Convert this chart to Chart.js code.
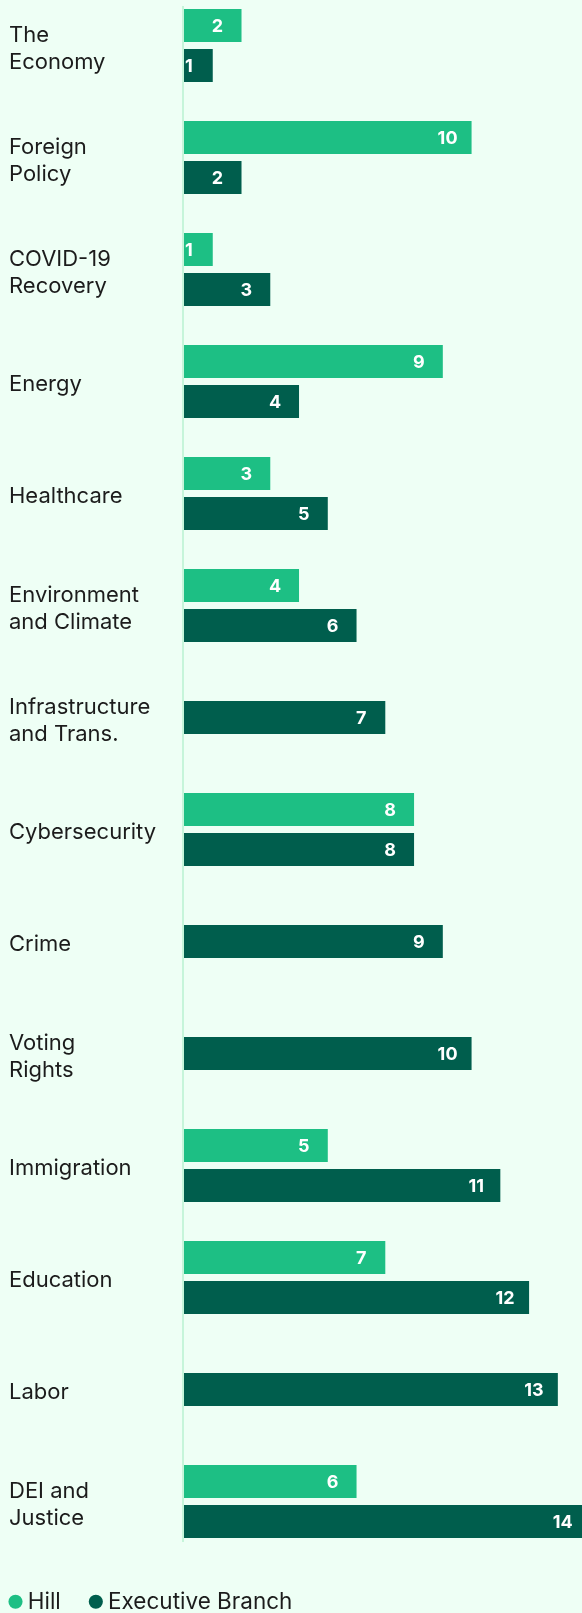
<!DOCTYPE html>
<html>
<head>
<meta charset="utf-8">
<script src="https://cdn.jsdelivr.net/npm/chart.js@4.4.1/dist/chart.umd.min.js"></script>
<style>
  html, body { margin: 0; padding: 0; background: #eefff5; overflow: hidden; width: 582px; height: 1613px; }
  #wrap { position: absolute; left: 0; top: -11px; width: 582px; height: 1629px; }
</style>
</head>
<body>
<div id="wrap"><canvas id="chart"></canvas></div>
<script>
// ---- data ----
const categories = [
  ["The", "Economy"], ["Foreign", "Policy"], ["COVID-19", "Recovery"], "Energy", "Healthcare",
  ["Environment", "and Climate"], ["Infrastructure", "and Trans."], "Cybersecurity", "Crime",
  ["Voting", "Rights"], "Immigration", "Education", "Labor", ["DEI and", "Justice"]
];
const seriesNames = ["Hill", "Executive Branch"];
const hillValues = [2, 10, 1, 9, 3, 4, null, 8, null, null, 5, 7, null, 6];
const executiveValues = [1, 2, 3, 4, 5, 6, 7, 8, 9, 10, 11, 12, 13, 14];
const xRange = [0, 13.84];

// ---- styles ----
const hillColor = "#1dbf84";
const execColor = "#005e4d";
const textColor = "#1c1c1c";
const axisLineColor = "#c6f5da";
const fontFamily = "Inter, 'Noto Sans', sans-serif";

const valueLabels = {
  id: "valueLabels",
  afterDatasetsDraw(chart) {
    const ctx = chart.ctx;
    ctx.save();
    ctx.fillStyle = "#ffffff";
    ctx.font = "700 18px " + fontFamily;
    ctx.textAlign = "center";
    ctx.textBaseline = "middle";
    chart.data.datasets.forEach((ds, i) => {
      const meta = chart.getDatasetMeta(i);
      meta.data.forEach((bar, j) => {
        const v = ds.data[j];
        if (v === null || v === undefined) return;
        const p = bar.getProps(["x", "y"], true);
        ctx.fillText(String(v), p.x - 24, p.y + 1);
      });
    });
    ctx.restore();
  }
};

const axisLine = {
  id: "axisLine",
  beforeDatasetsDraw(chart) {
    const a = chart.chartArea;
    const ctx = chart.ctx;
    ctx.save();
    ctx.fillStyle = axisLineColor;
    const top = Math.round(a.top + 16), bottom = Math.round(a.bottom - 16);
    ctx.fillRect(a.left - 2, top, 2, bottom - top);
    ctx.restore();
  }
};

const legendPlace = {
  id: "legendPlace",
  afterLayout(chart) {
    const lg = chart.legend;
    if (!lg) return;
    const p = lg.options.labels.padding;
    lg.left = 14.5 - p;
    lg.top = 1601.5 - p;
  }
};

new Chart(document.getElementById("chart"), {
  type: "bar",
  data: {
    labels: categories,
    datasets: [
      { label: seriesNames[0], data: hillValues, backgroundColor: hillColor },
      { label: seriesNames[1], data: executiveValues, backgroundColor: execColor }
    ]
  },
  options: {
    indexAxis: "y",
    responsive: true,
    maintainAspectRatio: false,
    animation: false,
    layout: { padding: { left: 9, right: 0, top: 0.5, bottom: 0 } },
    datasets: {
      bar: {
        categoryPercentage: 80 / 112,
        barPercentage: 1,
        maxBarThickness: 33,
        skipNull: true,
        borderWidth: 0
      }
    },
    scales: {
      x: { display: false, min: xRange[0], max: xRange[1] },
      y: {
        grid: { display: false },
        border: { display: false },
        ticks: {
          crossAlign: "far",
          labelOffset: 3,
          color: textColor,
          font: { family: fontFamily, size: 22, lineHeight: 1.23 }
        },
        afterFit(scale) {
          scale.width = 175;
          scale.paddingTop = 0;
          scale.paddingBottom = 0;
        }
      }
    },
    plugins: {
      tooltip: { enabled: false },
      legend: {
        position: "bottom",
        align: "start",
        maxHeight: 60.5,
        labels: {
          usePointStyle: true,
          pointStyle: "circle",
          boxWidth: 2,
          boxHeight: 10,
          padding: 34,
          color: textColor,
          font: { family: fontFamily, size: 22.5 }
        }
      }
    }
  },
  plugins: [axisLine, valueLabels, legendPlace]
});
</script>
</body>
</html>
